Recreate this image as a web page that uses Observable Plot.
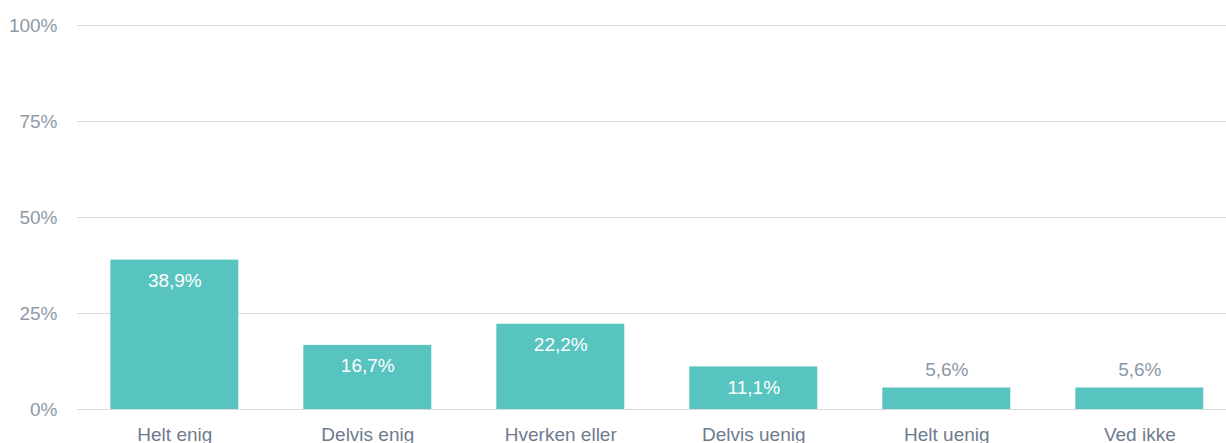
<!DOCTYPE html>
<html>
<head>
<meta charset="utf-8">
<script src="https://cdn.jsdelivr.net/npm/d3@7"></script>
<script src="https://cdn.jsdelivr.net/npm/@observablehq/plot@0.6"></script>
<style>
  html, body { margin: 0; padding: 0; background: #fff; }
  #chart svg { display: block; }
</style>
</head>
<body>
<div id="chart"></div>
<script>
const categories = ["Helt enig", "Delvis enig", "Hverken eller", "Delvis uenig", "Helt uenig", "Ved ikke"];
const values = [38.9, 16.7, 22.2, 11.1, 5.6, 5.6];
const yTicks = [0, 25, 50, 75, 100];

const data = categories.map((c, i) => ({category: c, value: values[i]}));
const fmt = v => v.toFixed(1).replace(".", ",") + "%";
const inside = data.filter(d => d.value >= 8);
const outside = data.filter(d => d.value < 8);

const chart = Plot.plot({
  width: 1226,
  height: 443,
  marginLeft: 77,
  marginRight: 0,
  marginTop: 25,
  marginBottom: 34,
  style: {fontFamily: "Arial, 'Liberation Sans', sans-serif", fontSize: "19px", background: "#fff"},
  x: {domain: categories, range: [45.3, 1268.3], padding: 0.337, round: false, label: null},
  y: {domain: [0, 100], label: null},
  marks: [
    Plot.ruleY(yTicks, {stroke: "#d9d9d9", strokeWidth: 1}),
    Plot.barY(data, {x: "category", y: "value", fill: "#57c4c0"}),
    Plot.text(inside, {x: "category", y: "value", text: d => fmt(d.value), dy: 21, fill: "#ffffff", fontSize: 19}),
    Plot.text(outside, {x: "category", y: "value", text: d => fmt(d.value), dy: -18, fill: "#8c98a6", fontSize: 19}),
    Plot.axisY(yTicks, {tickSize: 0, tickPadding: 20, tickFormat: d => d + "%", color: "#8c9aa8", fontSize: 19}),
    Plot.axisX({tickSize: 0, tickPadding: 18, color: "#6e7b8e", fontSize: 19})
  ]
});
document.getElementById("chart").appendChild(chart);
</script>
</body>
</html>
